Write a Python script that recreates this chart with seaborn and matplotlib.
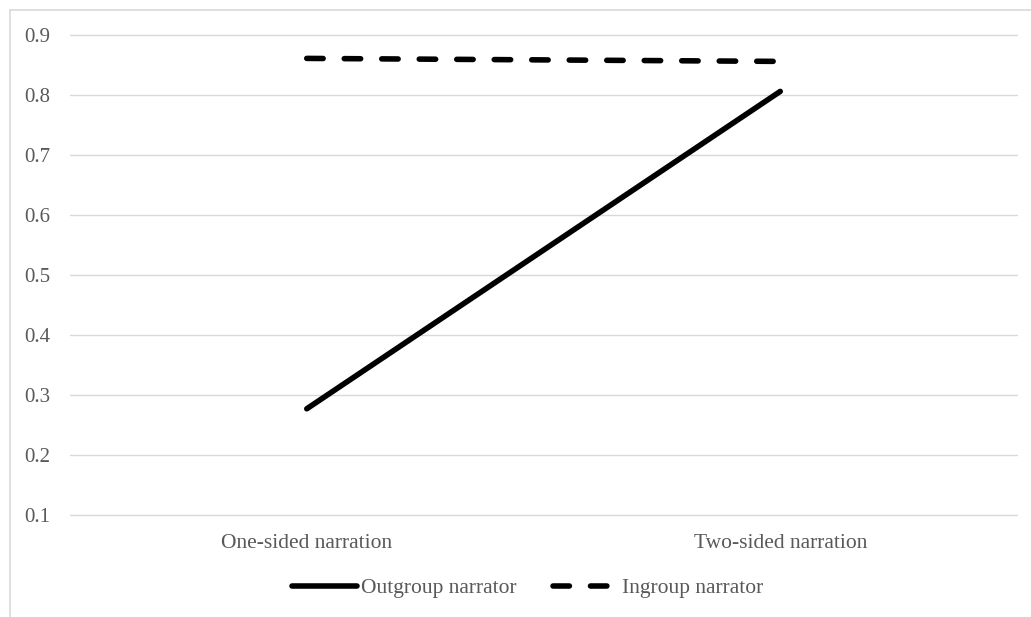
import matplotlib
matplotlib.use("Agg")
import matplotlib.pyplot as plt
import seaborn as sns
import pandas as pd
from matplotlib.lines import Line2D

conditions = ["One-sided narration", "Two-sided narration"]
outgroup = [0.277, 0.806]
ingroup = [0.861, 0.856]
series_names = ["Outgroup narrator", "Ingroup narrator"]
yticks = [0.1, 0.2, 0.3, 0.4, 0.5, 0.6, 0.7, 0.8, 0.9]

rows = []
for name, vals in zip(series_names, [outgroup, ingroup]):
    for i, (c, v) in enumerate(zip(conditions, vals)):
        rows.append({"pos": i, "condition": c, "value": v, "series": name})
df = pd.DataFrame(rows)

sns.set_theme(style="white")
plt.rcParams["font.family"] = ["Liberation Serif", "DejaVu Serif"]
text_color = "#595959"

fig = plt.figure(figsize=(10.31, 6.17), dpi=100)
ax = fig.add_axes([70 / 1031, 1 - 515 / 617, (1017 - 70) / 1031, (515 - 35) / 617])

lw = 4.0
dash = (2.95, 3.8)
sns.lineplot(
    data=df, x="pos", y="value", hue="series", style="series",
    hue_order=series_names, style_order=series_names,
    palette={"Outgroup narrator": "black", "Ingroup narrator": "black"},
    dashes={"Outgroup narrator": "", "Ingroup narrator": dash},
    linewidth=lw, ax=ax, legend=False,
)
for line in ax.get_lines():
    line.set_solid_capstyle("round")
    line.set_dash_capstyle("round")

ax.set_xlim(-0.5, 1.5)
ax.set_ylim(0.1, 0.9)
ax.set_yticks(yticks)
ax.set_yticklabels([f"{t:.1f}" for t in yticks])
ax.set_xticks(range(len(conditions)))
ax.set_xticklabels(conditions)
ax.set_xlabel("")
ax.set_ylabel("")
ax.yaxis.grid(True, color="#d9d9d9", linewidth=1.0)
ax.xaxis.grid(False)
for gl in ax.get_ygridlines():
    gl.set_clip_on(False)
for s in ax.spines.values():
    s.set_visible(False)
ax.tick_params(axis="y", length=0, pad=14, labelsize=15, labelcolor=text_color)
ax.tick_params(axis="x", length=0, pad=14, labelsize=15.5, labelcolor=text_color)

handles = [
    Line2D([], [], color="black", linewidth=lw, solid_capstyle="round"),
    Line2D([], [], color="black", linewidth=lw, dashes=dash, dash_capstyle="round"),
]
leg = fig.legend(
    handles, series_names, loc="center", bbox_to_anchor=(528 / 1031, 1 - 588 / 617),
    ncol=2, frameon=False, handlelength=3.0, handletextpad=0.2, columnspacing=1.7,
    fontsize=15.5,
)
for t in leg.get_texts():
    t.set_color(text_color)

border = "#d9d9d9"
fig.add_artist(Line2D([9.5 / 1031, 9.5 / 1031], [0, 1 - 9.5 / 617], color=border, linewidth=1.2, transform=fig.transFigure))
fig.add_artist(Line2D([9.5 / 1031, 1], [1 - 9.5 / 617, 1 - 9.5 / 617], color=border, linewidth=1.2, transform=fig.transFigure))

fig.savefig("out.png", dpi=100, facecolor="white")
